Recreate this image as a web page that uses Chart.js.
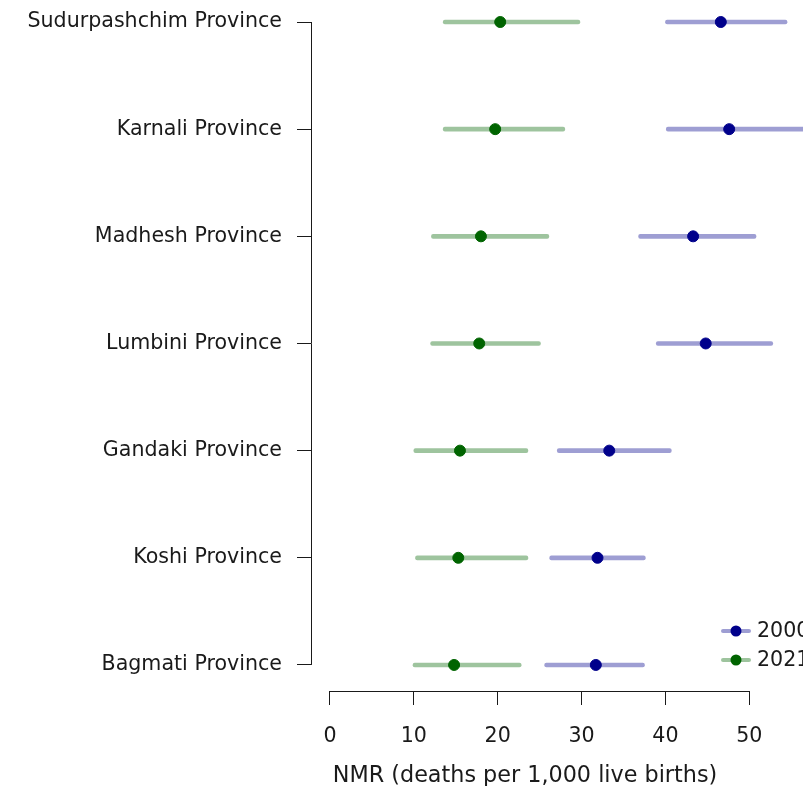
<!DOCTYPE html>
<html lang="en">
<head>
  <meta charset="UTF-8"/>
  <title>NMR by Province</title>
  <script src="https://cdn.jsdelivr.net/npm/chart.js"></script>
  <style>
    html, body { margin: 0; padding: 0; background: #ffffff; }
    .chart-container { position: relative; width: 803px; height: 786px; }
  </style>
</head>
<body>

<div class="chart-container">
  <canvas id="nmrChart"></canvas>
</div>

<script>
// provinces, top to bottom as shown
const provinces = ['Sudurpashchim Province', 'Karnali Province', 'Madhesh Province',
  'Lumbini Province', 'Gandaki Province', 'Koshi Province', 'Bagmati Province'];

const nmr2000 = [46.6, 47.6, 43.3, 44.8, 33.3, 31.9, 31.7];
const lo2000  = [40.0, 40.1, 36.8, 38.9, 27.1, 26.2, 25.6];
const hi2000  = [54.5, 58.0, 50.8, 52.8, 40.7, 37.6, 37.5];

const nmr2021 = [20.3, 19.7, 18.0, 17.8, 15.5, 15.3, 14.8];
const lo2021  = [13.5, 13.5, 12.1, 12.0, 10.0, 10.2, 9.9];
const hi2021  = [29.8, 28.0, 26.1, 25.1, 23.6, 23.6, 22.8];

const xTicks = [0, 10, 20, 30, 40, 50];

const FONT = "'DejaVu Sans', sans-serif";
const INK = '#1a1a1a';
const blue = '#00008b', blueCI = 'rgba(0, 0, 139, 0.38)';
const green = '#006400', greenCI = 'rgba(0, 100, 0, 0.38)';

const n = provinces.length;
const rowOf = i => n - 1 - i;

const ciData = (lo, hi) => lo.map((v, i) => ({ x: [v, hi[i]], y: rowOf(i) }));
const ptData = vals => vals.map((v, i) => ({ x: v, y: rowOf(i) }));

// axis lines (R style, only over tick range), x title and legend
const extras = {
  id: 'extras',
  afterDraw(chart) {
    const { ctx, chartArea } = chart;
    const xs = chart.scales.x, ys = chart.scales.y;
    ctx.save();
    ctx.strokeStyle = INK;
    ctx.lineWidth = 1;
    ctx.beginPath();
    ctx.moveTo(chartArea.left + 0.5, ys.getPixelForValue(n - 1));
    ctx.lineTo(chartArea.left + 0.5, ys.getPixelForValue(0));
    ctx.moveTo(xs.getPixelForValue(xTicks[0]), chartArea.bottom + 0.5);
    ctx.lineTo(xs.getPixelForValue(xTicks[xTicks.length - 1]), chartArea.bottom + 0.5);
    ctx.stroke();

    ctx.fillStyle = INK;
    ctx.font = '22.3px ' + FONT;
    ctx.textAlign = 'center';
    ctx.textBaseline = 'alphabetic';
    ctx.fillText('NMR (deaths per 1,000 live births)', 525, 782);

    const items = [['2000', blue, blueCI], ['2021', green, greenCI]];
    ctx.font = '20.6px ' + FONT;
    ctx.textAlign = 'left';
    ctx.textBaseline = 'middle';
    items.forEach(([label, dot, line], k) => {
      const cy = 631 + k * 29;
      ctx.strokeStyle = line;
      ctx.lineWidth = 4;
      ctx.lineCap = 'round';
      ctx.beginPath();
      ctx.moveTo(723, cy);
      ctx.lineTo(749, cy);
      ctx.stroke();
      ctx.fillStyle = dot;
      ctx.beginPath();
      ctx.arc(736, cy, 5.5, 0, Math.PI * 2);
      ctx.fill();
      ctx.fillStyle = INK;
      ctx.fillText(label, 757, cy + 1);
    });
    ctx.restore();
  }
};

new Chart(document.getElementById('nmrChart'), {
  type: 'scatter',
  data: {
    datasets: [
      { type: 'bar', label: '2000 CI', indexAxis: 'y', data: ciData(lo2000, hi2000),
        backgroundColor: blueCI, barThickness: 4, borderRadius: 2, borderSkipped: false,
        grouped: false, clip: false, order: 2 },
      { type: 'bar', label: '2021 CI', indexAxis: 'y', data: ciData(lo2021, hi2021),
        backgroundColor: greenCI, barThickness: 4, borderRadius: 2, borderSkipped: false,
        grouped: false, clip: false, order: 2 },
      { type: 'scatter', label: '2000', data: ptData(nmr2000),
        backgroundColor: blue, borderColor: blue, pointRadius: 5.5, clip: false, order: 1 },
      { type: 'scatter', label: '2021', data: ptData(nmr2021),
        backgroundColor: green, borderColor: green, pointRadius: 5.5, clip: false, order: 1 }
    ]
  },
  options: {
    responsive: true,
    maintainAspectRatio: false,
    animation: false,
    layout: { autoPadding: false, padding: { top: 22, right: 0, bottom: 0, left: 0 } },
    plugins: { legend: { display: false }, tooltip: { enabled: false } },
    scales: {
      x: {
        type: 'linear',
        position: 'bottom',
        offset: false,
        min: -2.26,
        max: 56.4,
        afterFit: s => { s.height = 95; s.paddingLeft = 0; s.paddingRight = 0; },
        border: { display: false },
        grid: { offset: false, drawOnChartArea: false, drawTicks: true, tickLength: 14, color: INK },
        ticks: {
          stepSize: 10, includeBounds: false, padding: 19, color: INK,
          font: { family: FONT, size: 20.6 }
        }
      },
      y: {
        type: 'linear',
        position: 'left',
        offset: false,
        min: -0.243,
        max: n - 1,
        afterFit: s => { s.width = 311; s.paddingTop = 0; s.paddingBottom = 0; },
        border: { display: false },
        grid: { offset: false, drawOnChartArea: false, drawTicks: true, tickLength: 14, color: INK },
        ticks: {
          stepSize: 1, includeBounds: false, padding: 15, color: INK,
          font: { family: FONT, size: 20.6 },
          callback: v => provinces[n - 1 - v]
        }
      }
    }
  },
  plugins: [extras]
});
</script>
</body>
</html>
